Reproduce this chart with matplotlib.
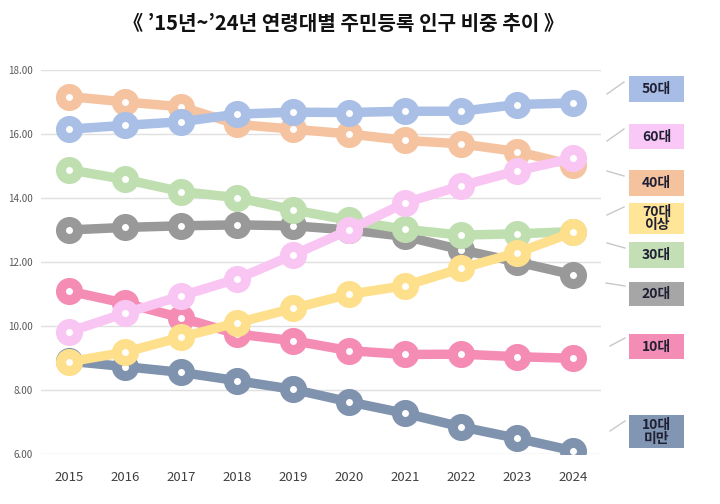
import matplotlib
matplotlib.use("Agg")
import matplotlib.pyplot as plt
from matplotlib.lines import Line2D
from matplotlib.ticker import FormatStrFormatter

plt.rcParams['font.family'] = ['Noto Sans CJK KR', 'DejaVu Sans']

years = [2015, 2016, 2017, 2018, 2019, 2020, 2021, 2022, 2023, 2024]

under10 = [8.90, 8.73, 8.55, 8.29, 8.02, 7.63, 7.27, 6.85, 6.49, 6.10]
age10 = [11.09, 10.71, 10.26, 9.75, 9.54, 9.23, 9.11, 9.12, 9.04, 8.99]
age20 = [13.00, 13.08, 13.13, 13.16, 13.13, 13.00, 12.80, 12.38, 12.00, 11.60]
age30 = [14.88, 14.58, 14.20, 14.01, 13.63, 13.30, 13.02, 12.84, 12.88, 12.95]
age40 = [17.17, 17.00, 16.85, 16.30, 16.15, 16.00, 15.80, 15.69, 15.45, 15.03]
age50 = [16.15, 16.27, 16.38, 16.62, 16.68, 16.67, 16.71, 16.71, 16.92, 16.97]
age60 = [9.82, 10.40, 10.94, 11.47, 12.22, 13.00, 13.85, 14.38, 14.85, 15.24]
over70 = [8.88, 9.18, 9.65, 10.10, 10.55, 10.99, 11.26, 11.80, 12.29, 12.93]

# drawn bottom -> top
series = [
    ('10대\n미만', under10, '#7f92ae'),
    ('10대', age10, '#f48cb4'),
    ('20대', age20, '#999999'),
    ('30대', age30, '#bfdfb0'),
    ('40대', age40, '#f6c3a0'),
    ('50대', age50, '#a9bfe6'),
    ('60대', age60, '#f9c6f3'),
    ('70대\n이상', over70, '#fddf8c'),
]

fig = plt.figure(figsize=(7.2, 5.04), dpi=100)
ax = fig.add_axes([0.057, 0.0992, 0.778, 0.762])

for i, (name, vals, col) in enumerate(series):
    ax.plot(years, vals, color=col, lw=6.8, marker='o', ms=18.5,
            solid_capstyle='round', zorder=3 + i)
    ax.plot(years, vals, ls='none', marker='o', ms=4, color='white',
            zorder=3 + i)

ax.set_xlim(2014.5, 2024.5)
ax.set_ylim(6, 18)
ax.set_yticks([6, 8, 10, 12, 14, 16, 18])
ax.yaxis.set_major_formatter(FormatStrFormatter('%.2f'))
ax.set_xticks(years)
ax.grid(axis='y', color='#e0e0e0', lw=1)
ax.set_axisbelow(True)
for s in ax.spines.values():
    s.set_visible(False)
ax.tick_params(axis='y', length=0, labelsize=7, labelcolor='#595959', pad=6)
ax.tick_params(axis='x', length=0, labelsize=9.5, labelcolor='#404040', pad=12)

fig.text(0.477, 0.954, '《 \u201915년~\u201924년 연령대별 주민등록 인구 비중 추이 》',
         ha='center', va='center', fontsize=14.5, fontweight='bold', color='#111111')

# right-side label boxes: (text, colour, box top px, box bottom px, connector from, connector to)
labels = [
    ('50대', '#a8bde6', 76, 102, (607, 94), (624, 82)),
    ('60대', '#f9c8f6', 124, 149, (607, 141), (624, 129)),
    ('40대', '#f5c29e', 170, 196, (607, 171), (624, 176)),
    ('70대\n이상', '#fee598', 203, 234, (607, 215), (624, 207)),
    ('30대', '#c4dfb5', 242, 268, (607, 243), (625, 248)),
    ('20대', '#a6a6a6', 282, 306, (606, 283), (625, 286)),
    ('10대', '#f48db5', 334, 359, (610, 346), (625, 338)),
    ('10대\n미만', '#8096b3', 415, 448, (610, 431), (625, 421)),
]
W, H = 720.0, 504.0
for txt, col, top, bot, p0, p1 in labels:
    x0, x1 = 629, 684
    rect = plt.Rectangle((x0 / W, 1 - bot / H), (x1 - x0) / W, (bot - top) / H,
                         transform=fig.transFigure, facecolor=col, edgecolor='none')
    fig.add_artist(rect)
    fig.text((x0 + x1) / 2 / W, 1 - (top + bot) / 2 / H, txt, ha='center', va='center',
             fontsize=10, fontweight='bold', color='#1f2033', linespacing=1.0)
    fig.add_artist(Line2D([p0[0] / W, p1[0] / W], [1 - p0[1] / H, 1 - p1[1] / H],
                          transform=fig.transFigure, color='#c8c8c8', lw=1))

fig.savefig('out.png', dpi=100)
